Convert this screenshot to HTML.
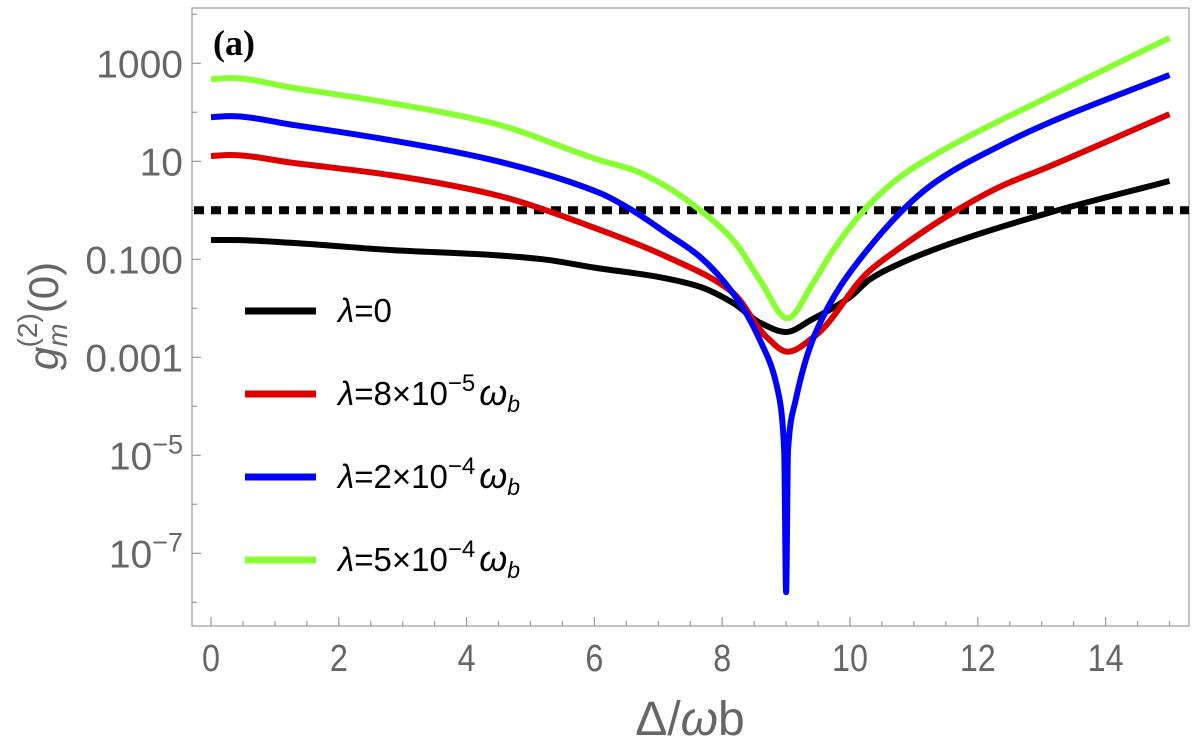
<!DOCTYPE html>
<html><head><meta charset="utf-8">
<style>
html,body{margin:0;padding:0;background:#fff;}
svg text{font-family:"Liberation Sans",sans-serif;}
</style></head>
<body>
<svg id="chart" width="1200" height="750" viewBox="0 0 1200 750" xmlns="http://www.w3.org/2000/svg">
  <rect x="192" y="8" width="997" height="618" fill="none" stroke="#999" stroke-width="1.2"/>
  <g id="ticks"></g>
  <line id="thr" stroke="#000" stroke-width="8" stroke-dasharray="10,7"/>
  <g id="series"></g>
  <text x="213" y="55" font-size="36" font-weight="bold" fill="#000" style="font-family:'Liberation Serif',serif;font-weight:bold">(a)</text>
  <text x="690" y="735" text-anchor="middle" font-size="48" fill="#666">Δ/<tspan font-style="italic">ω</tspan>b</text>
  <g transform="translate(58,316) rotate(-90)">
    <text text-anchor="middle" font-size="42" fill="#666"><tspan font-style="italic">g</tspan><tspan font-size="28" font-style="italic" dy="9">m</tspan><tspan font-size="28" dx="-24" dy="-30">(2)</tspan><tspan dy="21">(0)</tspan></text>
  </g>
  <g id="legend"></g>
</svg>
<script>
const xTicks=[0,2,4,6,8,10,12,14];
const yTickExps=[3,1,-1,-3,-5,-7];
const yTickLabels=["1000","10","0.100","0.001","10^-5","10^-7"];
const threshold=1;
const seriesNames=["λ=0","λ=8×10^-5","λ=2×10^-4","λ=5×10^-4"];
const seriesColors=["#000000","#dd0000","#0000ff","#88ff33"];
const blackX=[0,0.3,1.3,2.8,4.4,5.2,6,7,7.65,8.17,8.6,9,9.4,10,10.3,10.8,11.6,13.1,15];
const blackY=[-0.606,-0.606,-0.667,-0.81,-0.912,-1.0,-1.17,-1.36,-1.56,-1.89,-2.30,-2.483,-2.23,-1.77,-1.42,-1.075,-0.667,-0.055,0.598];
const redX=[0,0.3,1.3,2.8,4.4,6.09,7.13,8.17,8.69,9.02,9.47,10.27,10.8,11.6,12.35,13.1,15];
const redY=[1.108,1.129,0.965,0.72,0.33,-0.40,-0.947,-1.687,-2.58,-2.886,-2.545,-1.278,-0.749,-0.055,0.482,0.884,1.963];
const blueX=[0,0.3,1.3,2.8,4.4,6.09,6.61,7.13,7.65,8.17,8.59,8.9,8.97,9,9.03,9.15,9.46,10.27,11.31,12.35,13.1,15];
const blueY=[1.902,1.922,1.739,1.433,1.027,0.35,-0.014,-0.47,-0.947,-1.694,-2.647,-3.871,-4.9,-7.79,-4.9,-3.871,-2.504,-0.81,0.55,1.32,1.78,2.761];
const greenX=[0,0.3,1.3,2.8,4.4,6.09,6.61,7.13,7.65,8.17,8.59,9.02,9.42,9.74,10.27,10.79,11.46,13.1,15];
const greenY=[2.673,2.700,2.496,2.190,1.782,1.02,0.822,0.482,0.006,-0.606,-1.422,-2.204,-1.49,-0.81,0.073,0.686,1.23,2.312,3.516];

const NS="http://www.w3.org/2000/svg";
const X0=211, XS=63.9, Y0=63.3, YS=49;
function sx(v){return X0+v*XS;}
function sy(l){return Y0+(3-l)*YS;}
function mk(t,a,p){const e=document.createElementNS(NS,t);for(const k in a)e.setAttribute(k,a[k]);p.appendChild(e);return e;}

const tg=document.getElementById('ticks');
for(let v=0;v<=15.5;v+=0.5){
  const maj=xTicks.includes(v);
  const t=mk('line',{x1:sx(v),x2:sx(v),y1:626,y2:626-(maj?9:5),stroke:'#999','stroke-width':1.2},tg);
  
  
}
xTicks.forEach(v=>{
  const t=mk('text',{x:sx(v),y:671,'text-anchor':'middle','font-size':38,fill:'#666',transform:`translate(${sx(v)},0) scale(0.85,1) translate(${-sx(v)},0)`},tg);
  t.textContent=v;
  
  
});
for(let e=4;e>=-8;e--){
  const t=mk('line',{x1:192,x2:192+(yTickExps.includes(e)?9:5),y1:sy(e),y2:sy(e),stroke:'#999','stroke-width':1.2},tg);
  
  
}
yTickExps.forEach((e,i)=>{
  const t=mk('text',{x:183,y:sy(e)+14,'text-anchor':'end','font-size':39,fill:'#666'},tg);
  
  
  const lab=yTickLabels[i];
  if(lab.includes('^')){
    const [b,p]=lab.split('^');
    const s1=mk('tspan',{},t);s1.textContent=b;
    const s2=mk('tspan',{dy:-16,'font-size':27},t);s2.textContent=p.replace('-','−');
  } else t.textContent=lab;
});
const thr=document.getElementById('thr');
thr.setAttribute('x1',194);thr.setAttribute('x2',1189);
thr.setAttribute('y1',sy(Math.log10(threshold)));thr.setAttribute('y2',sy(Math.log10(threshold)));

function monoPath(xs,ys){
  const n=xs.length,d=[],m=[];
  for(let i=0;i<n-1;i++)d.push((ys[i+1]-ys[i])/(xs[i+1]-xs[i]));
  m[0]=d[0];m[n-1]=d[n-2];
  for(let i=1;i<n-1;i++){
    if(d[i-1]*d[i]<=0){m[i]=0;}
    else{const h0=xs[i]-xs[i-1],h1=xs[i+1]-xs[i];const w1=2*h1+h0,w2=h1+2*h0;m[i]=(w1+w2)/(w1/d[i-1]+w2/d[i]);}
  }
  let path='M'+sx(xs[0]).toFixed(2)+','+sy(ys[0]).toFixed(2);
  for(let i=0;i<n-1;i++){
    const h=xs[i+1]-xs[i];
    const c1x=xs[i]+h/3,c1y=ys[i]+m[i]*h/3,c2x=xs[i+1]-h/3,c2y=ys[i+1]-m[i+1]*h/3;
    path+=` C${sx(c1x).toFixed(2)},${sy(c1y).toFixed(2)} ${sx(c2x).toFixed(2)},${sy(c2y).toFixed(2)} ${sx(xs[i+1]).toFixed(2)},${sy(ys[i+1]).toFixed(2)}`;
  }
  return path;
}
const sg=document.getElementById('series');
const allX=[blackX,redX,blueX,greenX], allY=[blackY,redY,blueY,greenY];
const names=['series-lambda-0','series-lambda-8e-5','series-lambda-2e-4','series-lambda-5e-4'];
allX.forEach((xs,i)=>{
  const p=mk('path',{d:monoPath(xs,allY[i]),fill:'none',stroke:seriesColors[i],'stroke-width':6,'stroke-linejoin':'round'},sg);
  
  
});
const lg=document.getElementById('legend');
const ly=[311,394,477,560];
seriesNames.forEach((n,i)=>{
  const l=mk('line',{x1:245,x2:316,y1:ly[i],y2:ly[i],stroke:seriesColors[i],'stroke-width':7},lg);
  
  
  const t=mk('text',{x:338,y:ly[i]+11,'font-size':33,fill:'#000'},lg);
  
  
  const a=mk('tspan',{'font-style':'italic'},t);a.textContent='λ';
  if(n.includes('^')){
    const [b,p]=n.slice(1).split('^');
    const s1=mk('tspan',{},t);s1.textContent=b;
    const s2=mk('tspan',{dy:-14,'font-size':24},t);s2.textContent=p.replace('-','−');
    const s3=mk('tspan',{dy:14,dx:4,'font-style':'italic','font-size':36},t);s3.textContent='ω';
    const s4=mk('tspan',{dy:7,'font-style':'italic','font-size':23},t);s4.textContent='b';
  } else {const s=mk('tspan',{},t);s.textContent=n.slice(1);}
});
</script>
</body></html>
